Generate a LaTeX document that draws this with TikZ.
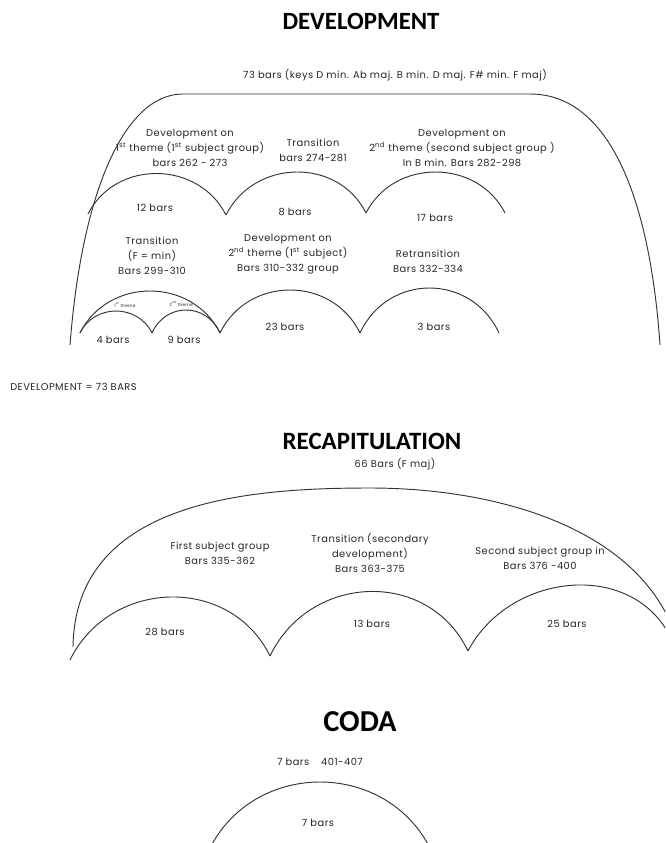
\documentclass[tikz,border=0pt]{standalone}
\usepackage{fontspec}
\setmainfont{Poppins}[LetterSpace=5]
\newfontfamily\titlefont{Carlito}
\newcommand\archpx[5]{\draw[archline] (#1,-#2) .. controls ({#1+0.2*(#3-#1)},{-#2+4*#5/3}) and ({#3-0.2*(#3-#1)},{-#4+4*#5/3}) .. (#3,-#4);}
\newcommand\ttl[2]{\resizebox{#1}{!}{\titlefont\bfseries #2}}
\begin{document}
\begin{tikzpicture}[x=0.75pt,y=0.75pt,
  archline/.style={line width=0.7pt, draw=black!80},
  lbl/.style={font=\fontsize{7.4}{11.25}\selectfont, align=center, inner sep=0pt, text=black!85},
  tiny/.style={font=\fontsize{3.2}{4}\selectfont, inner sep=0pt, text=black!85},
  ttlnode/.style={inner sep=0pt}]
\clip (0,0) rectangle (665,-843);
\useasboundingbox (0,0) rectangle (665,-843);

% ---------------- DEVELOPMENT ----------------
\node[ttlnode] (devtitle) at (361,-21) {\ttl{117.75pt}{DEVELOPMENT}};
\node[lbl] (devkeys) at (395,-75) {73 bars (keys D min. Ab maj. B min. D maj. F\# min. F maj)};

\draw[archline] (70,-345) .. controls (82,-190) and (125,-95) .. (182,-94)
  -- (530,-94) .. controls (610,-94) and (650,-200) .. (660,-345);

% row 1
\archpx{88}{214}{226}{215}{41}
\archpx{226}{215}{366}{213}{42}
\archpx{366}{213}{505}{213}{41}
\node[lbl] (d1) at (190,-148) {Development on\\1\textsuperscript{st} theme (1\textsuperscript{st} subject group)\\bars 262 - 273};
\node[lbl] (d2) at (313,-150) {Transition\\bars 274-281};
\node[lbl] (d3) at (462,-148) {Development on\\2\textsuperscript{nd} theme (second subject group )\\In B min. Bars 282-298};
\node[lbl] (b12) at (155,-208) {12 bars};
\node[lbl] (b8) at (295,-212) {8 bars};
\node[lbl] (b17) at (435,-218) {17 bars};

% row 2
\archpx{80}{333}{220}{333}{42}
\archpx{80}{333}{152}{333}{22}
\archpx{152}{333}{220}{333}{23}
\archpx{220}{333}{360}{333}{43}
\archpx{360}{333}{499}{333}{45}
\node[lbl] (d4) at (152,-256) {Transition\\(F = min)\\Bars 299-310};
\node[lbl] (d5) at (288,-254) {Development on\\2\textsuperscript{nd} theme (1\textsuperscript{st} subject)\\Bars 310-332 group};
\node[lbl] (d6) at (428,-261) {Retransition\\Bars 332-334};
\node[tiny] (t1) at (125,-305) {1\textsuperscript{st} theme};
\node[tiny] (t2) at (181,-304) {2\textsuperscript{nd} theme};
\node[lbl] (b4) at (113,-340) {4 bars};
\node[lbl] (b9) at (184,-340) {9 bars};
\node[lbl] (b23) at (285,-327) {23 bars};
\node[lbl] (b3) at (434,-327) {3 bars};

\node[lbl, anchor=west] (devsum) at (10,-387) {DEVELOPMENT = 73 BARS};

% ---------------- RECAPITULATION ----------------
\node[ttlnode] (rectitle) at (372,-441) {\ttl{134pt}{RECAPITULATION}};
\node[lbl] (reckey) at (395,-464) {66 Bars (F maj)};
\draw[archline] (73,-647) .. controls (75,-500) and (250,-488) .. (370,-488)
  .. controls (500,-488) and (650,-530) .. (680,-650);
\archpx{70}{660}{270}{656}{61}
\archpx{270}{656}{468}{651}{62}
\archpx{468}{651}{670}{636}{58}
\node[lbl] (r1) at (220,-553) {First subject group\\Bars 335-362};
\node[lbl] (r2) at (370,-553) {Transition (secondary\\development)\\Bars 363-375};
\node[lbl] (r3) at (540,-558) {Second subject group in\\Bars 376 -400};
\node[lbl] (b28) at (165,-632) {28 bars};
\node[lbl] (b13) at (372,-624) {13 bars};
\node[lbl] (b25) at (567,-624) {25 bars};

% ---------------- CODA ----------------
\node[ttlnode] (codatitle) at (360,-722) {\ttl{55pt}{CODA}};
\node[lbl] (codakey) at (320,-762) {7 bars\hspace{1.2em}401-407};
\archpx{209}{850}{431}{850}{68}
\node[lbl] (b7) at (318,-823) {7 bars};
\end{tikzpicture}
\end{document}
